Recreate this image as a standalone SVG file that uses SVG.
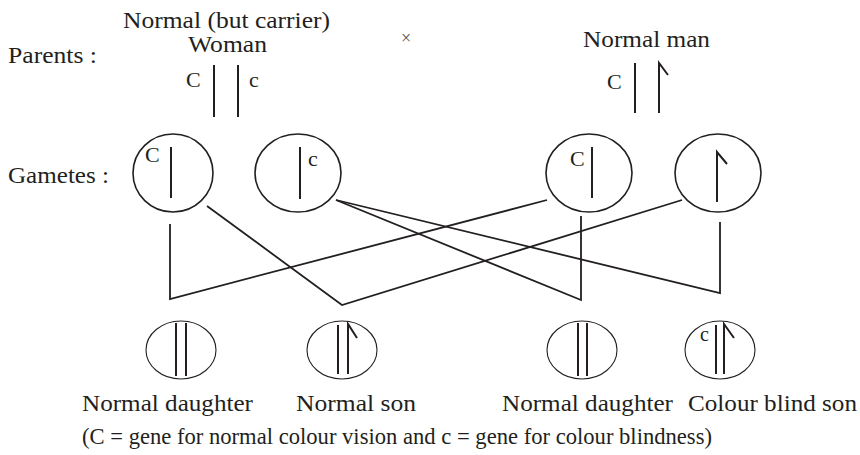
<svg xmlns="http://www.w3.org/2000/svg" width="860" height="455" viewBox="0 0 860 455">
<style>
text{font-family:"Liberation Serif","Times New Roman",serif;fill:#231f20;font-size:23px}
.g{fill:none;stroke:#231f20;stroke-width:1.6}
.o{fill:none;stroke:#231f20;stroke-width:1.1}
.ch{fill:none;stroke:#231f20;stroke-width:2;stroke-linecap:butt}
.cn{fill:none;stroke:#231f20;stroke-width:1.8;stroke-linejoin:miter}
.sm{font-size:22px}
</style>
<rect width="860" height="455" fill="#fff"/>
<g id="labels">
<text x="8" y="63" textLength="89" lengthAdjust="spacingAndGlyphs">Parents :</text>
<text x="8" y="183" textLength="101" lengthAdjust="spacingAndGlyphs">Gametes :</text>
<text x="406" y="44" text-anchor="middle" style="font-size:18px;fill:#555">×</text>
</g>
<g id="woman">
<text x="123" y="28" textLength="207" lengthAdjust="spacingAndGlyphs">Normal (but carrier)</text>
<text x="188" y="52" textLength="79" lengthAdjust="spacingAndGlyphs">Woman</text>
<text x="186" y="87" class="sm">C</text>
<text x="249" y="87" class="sm">c</text>
<line class="ch" x1="214" y1="65" x2="214" y2="117"/>
<line class="ch" x1="238" y1="65" x2="238" y2="117"/>
</g>
<g id="man">
<text x="583" y="47" textLength="127" lengthAdjust="spacingAndGlyphs">Normal man</text>
<text x="607" y="89" class="sm">C</text>
<line class="ch" x1="635" y1="63" x2="635" y2="113"/>
<polyline class="ch" points="659,113 659,63 668,75"/>
</g>
<g id="gamete-C-woman">
<ellipse class="g" cx="173" cy="173" rx="40" ry="39"/>
<text x="145" y="162" class="sm">C</text>
<line class="ch" x1="171" y1="147" x2="171" y2="198"/>
</g>
<g id="gamete-c-woman">
<ellipse class="g" cx="298" cy="173" rx="43" ry="39"/>
<line class="ch" x1="300" y1="147" x2="300" y2="199"/>
<text x="308" y="166" class="sm">c</text>
</g>
<g id="gamete-C-man">
<ellipse class="g" cx="589" cy="173" rx="43" ry="39"/>
<text x="570" y="166" class="sm">C</text>
<line class="ch" x1="592" y1="147" x2="592" y2="198"/>
</g>
<g id="gamete-Y-man">
<ellipse class="g" cx="718" cy="173" rx="43" ry="39"/>
<polyline class="ch" points="717,202 717,152 727,164"/>
</g>
<g id="connectors">
<polyline class="cn" points="170,224 170,299 547,200"/>
<polyline class="cn" points="207,206 342,305 682,200"/>
<polyline class="cn" points="336,200 581,300 581,216"/>
<polyline class="cn" points="336,200 720,293 720,222"/>
</g>
<g id="offspring-1">
<ellipse class="o" cx="181" cy="350" rx="35" ry="29"/>
<line class="ch" x1="176" y1="323" x2="176" y2="376"/>
<line class="ch" x1="186" y1="323" x2="186" y2="376"/>
<text x="82" y="411" textLength="171" lengthAdjust="spacingAndGlyphs">Normal daughter</text>
</g>
<g id="offspring-2">
<ellipse class="o" cx="342" cy="350" rx="35" ry="29"/>
<line class="ch" x1="338" y1="325" x2="338" y2="374"/>
<polyline class="ch" points="348,374 348,324 357,338"/>
<text x="296" y="411" textLength="120" lengthAdjust="spacingAndGlyphs">Normal son</text>
</g>
<g id="offspring-3">
<ellipse class="o" cx="582" cy="350" rx="35" ry="29"/>
<line class="ch" x1="578" y1="323" x2="578" y2="376"/>
<line class="ch" x1="587" y1="323" x2="587" y2="376"/>
<text x="502" y="411" textLength="171" lengthAdjust="spacingAndGlyphs">Normal daughter</text>
</g>
<g id="offspring-4">
<ellipse class="o" cx="720" cy="350" rx="35" ry="29"/>
<text x="700" y="341" style="font-size:20px">c</text>
<line class="ch" x1="716" y1="325" x2="716" y2="374"/>
<polyline class="ch" points="724,374 724,324 734,338"/>
<text x="688" y="411" textLength="169" lengthAdjust="spacingAndGlyphs">Colour blind son</text>
</g>
<g id="note">
<text x="82" y="444" textLength="630" lengthAdjust="spacingAndGlyphs">(C = gene for normal colour vision and c = gene for colour blindness)</text>
</g>
</svg>
